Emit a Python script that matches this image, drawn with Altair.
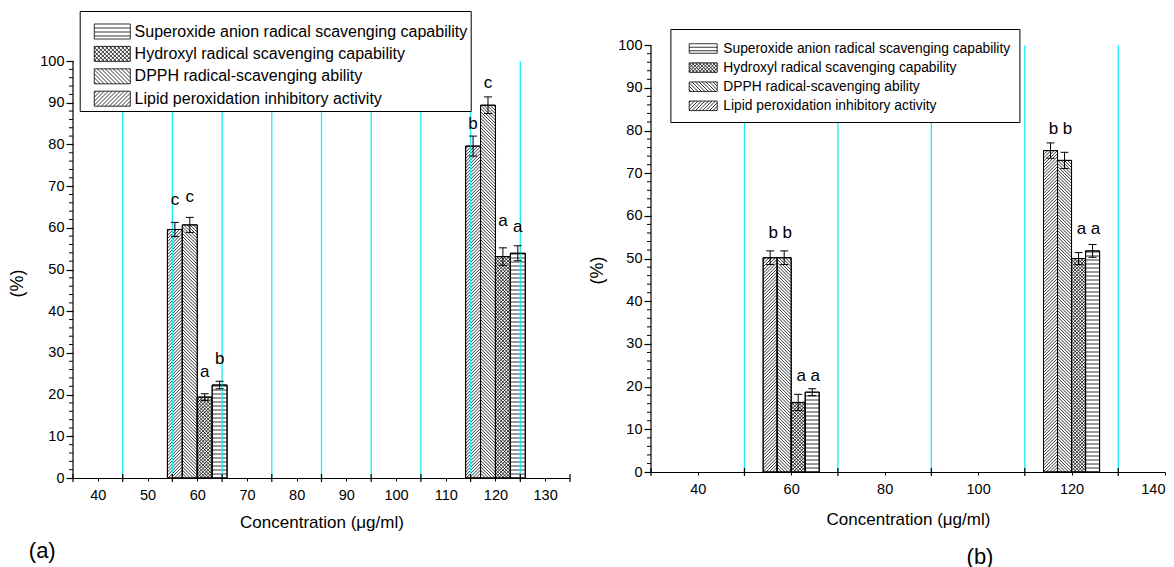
import altair as alt
import pandas as pd

# ---------------- data ----------------
SERIES_LEGEND_A = [
    "Superoxide anion radical scavenging capability",
    "Hydroxyl radical scavenging capability",
    "DPPH radical-scavenging ability",
    "Lipid peroxidation inhibitory activity",
]
SERIES_LEGEND_B = [
    "Superoxide anion radical scavenging capability",
    "Hydroxyl radical scavenging capability",
    " DPPH radical-scavenging ability",
    "Lipid peroxidation inhibitory activity",
]
# left-to-right order of bars inside a group
BAR_ORDER = ["lipid", "dpph", "hydroxyl", "superoxide"]
LEGEND_KEYS = ["superoxide", "hydroxyl", "dpph", "lipid"]
PATTERN = {"lipid": "fwd", "dpph": "back", "hydroxyl": "cross", "superoxide": "horiz"}

CONC = [60, 120]
BAR_W = 3

A_LIPID = [59.6, 79.6]
A_LIPID_ERR = [1.7, 2.4]
A_DPPH = [60.7, 89.4]
A_DPPH_ERR = [1.8, 2.0]
A_HYDROXYL = [19.4, 53.1]
A_HYDROXYL_ERR = [0.8, 2.1]
A_SUPEROXIDE = [22.3, 53.9]
A_SUPEROXIDE_ERR = [0.9, 1.8]
A_LETTERS = [["c", "c", "a", "b"], ["b", "c", "a", "a"]]
A_LETTER_Y = [[66.7, 67.4, 25.5, 28.5], [84.8, 94.8, 61.6, 60.2]]

B_LIPID = [50.2, 75.3]
B_LIPID_ERR = [1.6, 1.8]
B_DPPH = [50.2, 73.0]
B_DPPH_ERR = [1.6, 1.9]
B_HYDROXYL = [16.3, 50.0]
B_HYDROXYL_ERR = [1.9, 1.4]
B_SUPEROXIDE = [18.7, 51.8]
B_SUPEROXIDE_ERR = [0.8, 1.5]
B_LETTERS = [["b", "b", "a", "a"], ["b", "b", "a", "a"]]
B_LETTER_Y = [[56.0, 56.0, 22.5, 22.5], [80.3, 80.3, 57.0, 57.0]]

A_GRID = [45, 55, 65, 75, 85, 95, 105, 115, 125]
B_GRID = [50, 70, 90, 110, 130]
A_XMAJOR = [35, 45, 55, 65, 75, 85, 95, 105, 115, 125, 135]
B_XMAJOR = [30, 50, 70, 90, 110, 130]
A_XLABELS = [40, 50, 60, 70, 80, 90, 100, 110, 120, 130]
B_XLABELS = [40, 60, 80, 100, 120, 140]
Y_TICKS = [0, 10, 20, 30, 40, 50, 60, 70, 80, 90, 100]
Y_MINOR = [v for v in range(2, 100, 2) if v % 10 != 0]

X_TITLE = "Concentration (\u03bcg/ml)"
Y_TITLE = "(%)"

CYAN = "#19eef0"
FONT = "Liberation Sans"


# ---------------- helpers ----------------
def hatch(x0, x1, top, kind, kx, ky, period):
    """hatch segments of one bar in data units (45 degrees on screen)."""
    wp = (x1 - x0) * kx
    hp = top * ky
    segs = []
    if kind == "horiz":
        v = period
        while v < hp - 0.5:
            segs.append((x0, x1, v / ky, v / ky))
            v += period
    if kind in ("fwd", "cross"):
        c = -wp + period / 2
        while c < hp:
            ua, ub = max(0.0, -c), min(wp, hp - c)
            if ub > ua:
                segs.append((x0 + ua / kx, x0 + ub / kx, (ua + c) / ky, (ub + c) / ky))
            c += period
    if kind in ("back", "cross"):
        c = period / 2
        while c < wp + hp:
            ua, ub = max(0.0, c - hp), min(wp, c)
            if ub > ua:
                segs.append((x0 + ua / kx, x0 + ub / kx, (c - ua) / ky, (c - ub) / ky))
            c += period
    return segs


def swatch_path(kind, hw, hh, p):
    """legend swatch: rectangle [-hw,hw]x[-hh,hh] with hatching of period p."""
    f = lambda v: f"{v:.3f}"
    parts = [f"M{f(-hw)},{f(-hh)}H{f(hw)}V{f(hh)}H{f(-hw)}Z"]
    if kind == "horiz":
        y = -hh + p
        while y < hh - 0.02:
            parts.append(f"M{f(-hw)},{f(y)}H{f(hw)}")
            y += p
    if kind in ("fwd", "cross"):
        c = -hw - hh + p / 2
        while c < hw + hh:
            xa, xb = max(-hw, c - hh), min(hw, c + hh)
            if xb > xa:
                parts.append(f"M{f(xa)},{f(c - xa)}L{f(xb)},{f(c - xb)}")
            c += p
    if kind in ("back", "cross"):
        c = -hw - hh + p / 2
        while c < hw + hh:
            xa, xb = max(-hw, c - hh), min(hw, c + hh)
            if xb > xa:
                parts.append(f"M{f(xa)},{f(xa - c)}L{f(xb)},{f(xb - c)}")
            c += p
    return " ".join(parts)


def panel(cfg):
    W, H = cfg["W"], cfg["H"]
    xd, yd = cfg["xdom"], cfg["ydom"]
    kx = W / (xd[1] - xd[0])
    ky = H / (yd[1] - yd[0])
    xs = alt.Scale(domain=xd, nice=False, zero=False)
    ys = alt.Scale(domain=yd, nice=False, zero=False)
    cap = 4.0 / kx

    rows, hrows, crow = [], [], []
    for ci, c in enumerate(CONC):
        for si, s in enumerate(BAR_ORDER):
            x0 = c - 2 * BAR_W + si * BAR_W
            v = cfg["vals"][s][ci]
            e = cfg["errs"][s][ci]
            xc = x0 + BAR_W / 2
            rows.append(dict(x0=x0, x1=x0 + BAR_W, xc=xc, v=v, base=0,
                             lo=v - e, hi=v + e,
                             letter=cfg["letters"][ci][si], ly=cfg["letter_y"][ci][si]))
            crow.append(dict(cl=xc - cap, cr=xc + cap, cy=v - e))
            crow.append(dict(cl=xc - cap, cr=xc + cap, cy=v + e))
            per = {"horiz": 4.0, "cross": 3.4}.get(PATTERN[s], 3.2)
            for a, b, ya, yb in hatch(x0, x0 + BAR_W, v, PATTERN[s], kx, ky, per):
                hrows.append(dict(hx0=a, hx1=b, hy0=ya, hy1=yb))
    bdf = pd.DataFrame(rows)
    hdf = pd.DataFrame(hrows)
    cdf = pd.DataFrame(crow)
    gdf = pd.DataFrame({"gx": cfg["grid"], "g0": Y_TICKS[0], "g1": Y_TICKS[-1]})

    xaxis = alt.Axis(values=cfg["xlabels"], tickSize=3, tickColor="black",
                     domainColor="black", domainWidth=1.2, grid=False,
                     labelFontSize=14.5, labelColor="black", labelPadding=cfg["xlabpad"],
                     title=X_TITLE, titleFontSize=17, titleFontWeight="normal",
                     titleColor="black", titlePadding=cfg["xtitlepad"])
    yaxis = alt.Axis(values=Y_TICKS, tickSize=7, tickColor="black", tickWidth=1.2,
                     domain=False, grid=False, labelFontSize=14.5, labelColor="black",
                     labelPadding=2, title=Y_TITLE, titleFontSize=18,
                     titleFontWeight="normal", titleColor="black",
                     titlePadding=cfg["ytitlepad"], titleY=cfg["ytitley"])

    def X(field):
        return alt.X(field, scale=xs, axis=xaxis)

    def Y(field):
        return alt.Y(field, scale=ys, axis=yaxis)

    bars = alt.Chart(bdf).mark_rect(fill="white", stroke="black", strokeWidth=1).encode(
        x=X("x0:Q"), x2="x1", y=Y("v:Q"), y2="base")
    hat = alt.Chart(hdf).mark_rule(color="black", strokeWidth=0.8).encode(
        x=X("hx0:Q"), x2="hx1", y=Y("hy0:Q"), y2="hy1")
    outline = alt.Chart(bdf).mark_rect(fill=None, stroke="black", strokeWidth=1).encode(
        x=X("x0:Q"), x2="x1", y=Y("v:Q"), y2="base")
    grid = alt.Chart(gdf).mark_rule(color=CYAN, strokeWidth=1.3).encode(
        x=X("gx:Q"), y=Y("g0:Q"), y2="g1")
    err = alt.Chart(bdf).mark_rule(color="black", strokeWidth=1).encode(
        x=X("xc:Q"), y=Y("lo:Q"), y2="hi")
    caps = alt.Chart(cdf).mark_rule(color="black", strokeWidth=1).encode(
        x=X("cl:Q"), x2="cr", y=Y("cy:Q"))
    letters = alt.Chart(bdf).mark_text(fontSize=17, color="black", baseline="middle",
                                       dx=cfg["letter_dx"]).encode(
        x=X("xc:Q"), y=Y("ly:Q"), text="letter:N")
    yline = alt.Chart(pd.DataFrame({"y0": [Y_TICKS[0]], "y1": [Y_TICKS[-1]]})).mark_rule(
        color="black", strokeWidth=1.2).encode(
        x=alt.value(0), y=Y("y0:Q"), y2="y1")
    yminor = alt.Chart(pd.DataFrame({"m": Y_MINOR})).mark_rule(
        color="black", strokeWidth=1).encode(
        y=Y("m:Q"), x=alt.value(-4), x2=alt.value(0))
    xmajor = alt.Chart(pd.DataFrame({"t": cfg["xmajor"]})).mark_rule(
        color="black", strokeWidth=1.2).encode(
        x=X("t:Q"), y=alt.value(H - 4), y2=alt.value(H + 4))

    lg = cfg["legend"]
    labels = cfg["legend_labels"]
    r = lg["row"] / 2.0
    hw = lg["sw"] / 2.0 / r
    hh = lg["sh"] / 2.0 / r
    pp = lg["period"] / r
    paths = [swatch_path(PATTERN[k], hw, hh, pp) for k in LEGEND_KEYS]
    size = lg["row"] ** 2
    ldf = pd.DataFrame({"series": labels})
    # invisible carrier marks (opacity 0) that only feed the legend
    leg = alt.Chart(ldf).mark_point(opacity=0, filled=False, color="black",
                                    size=size, strokeWidth=0.8).encode(
        x=alt.value(W / 2), y=alt.value(H / 2),
        shape=alt.Shape("series:N",
                        scale=alt.Scale(domain=labels, range=paths),
                        legend=alt.Legend(symbolSize=size, **lg["opts"])))

    title = alt.TitleParams(**cfg["title"])
    return alt.layer(bars, hat, grid, outline, err, caps, letters, yline, yminor,
                     xmajor, leg).properties(width=W, height=H, title=title)


common_leg = dict(orient="none", labelColor="black", labelLimit=600,
                  strokeColor="black", fillColor="white",
                  symbolStrokeColor="black", symbolStrokeWidth=0.8,
                  symbolFillColor="white", symbolOpacity=1)

cfg_a = dict(
    W=497, H=467, xdom=[35, 135], ydom=[0, 112],
    vals={"lipid": A_LIPID, "dpph": A_DPPH, "hydroxyl": A_HYDROXYL, "superoxide": A_SUPEROXIDE},
    errs={"lipid": A_LIPID_ERR, "dpph": A_DPPH_ERR, "hydroxyl": A_HYDROXYL_ERR,
          "superoxide": A_SUPEROXIDE_ERR},
    letters=A_LETTERS, letter_y=A_LETTER_Y, letter_dx=0,
    grid=A_GRID, xmajor=A_XMAJOR, xlabels=A_XLABELS,
    xlabpad=7, xtitlepad=13, ytitlepad=13, ytitley=272,
    legend_labels=SERIES_LEGEND_A,
    legend=dict(row=22.7, sw=36, sh=15, period=4.0, opts=dict(
        common_leg, title=" ", titleFontSize=5, titlePadding=0.5, rowPadding=0.4,
        legendX=6.7, legendY=0, padding=3, symbolOffset=17.6, labelOffset=10.3,
        labelFontSize=16)),
    title=dict(text="(a)", orient="bottom", anchor="start", frame="bounds",
               fontSize=22, fontWeight="normal", color="black", offset=10, dx=20),
)

cfg_b = dict(
    W=514, H=461, xdom=[30, 140], ydom=[0, 108],
    vals={"lipid": B_LIPID, "dpph": B_DPPH, "hydroxyl": B_HYDROXYL, "superoxide": B_SUPEROXIDE},
    errs={"lipid": B_LIPID_ERR, "dpph": B_DPPH_ERR, "hydroxyl": B_HYDROXYL_ERR,
          "superoxide": B_SUPEROXIDE_ERR},
    letters=B_LETTERS, letter_y=B_LETTER_Y, letter_dx=3,
    grid=B_GRID, xmajor=B_XMAJOR, xlabels=B_XLABELS,
    xlabpad=7, xtitlepad=16, ytitlepad=11, ytitley=259,
    legend_labels=SERIES_LEGEND_B,
    legend=dict(row=19.4, sw=28, sh=9.5, period=3.5, opts=dict(
        common_leg, title=None, rowPadding=1.1,
        labelExpr="datum.label + '\u00a0\u00a0\u00a0\u00a0\u00a0\u00a0'",
        legendX=19.4, legendY=18, padding=9, symbolOffset=13.3, labelOffset=9.6,
        labelFontSize=13.8)),
    title=dict(text="(b)", orient="bottom", anchor="middle", frame="group",
               fontSize=22, fontWeight="normal", color="black", offset=19, dx=72),
)

chart = alt.hconcat(panel(cfg_a), panel(cfg_b), spacing=17).resolve_scale(
    x="independent", y="independent", shape="independent"
).resolve_legend(shape="independent").properties(
    padding={"left": 0, "top": 2, "right": 0, "bottom": 0}
).configure(font=FONT).configure_view(stroke=None)

chart.save("out.html", embed_options={"renderer": "svg", "actions": False})
